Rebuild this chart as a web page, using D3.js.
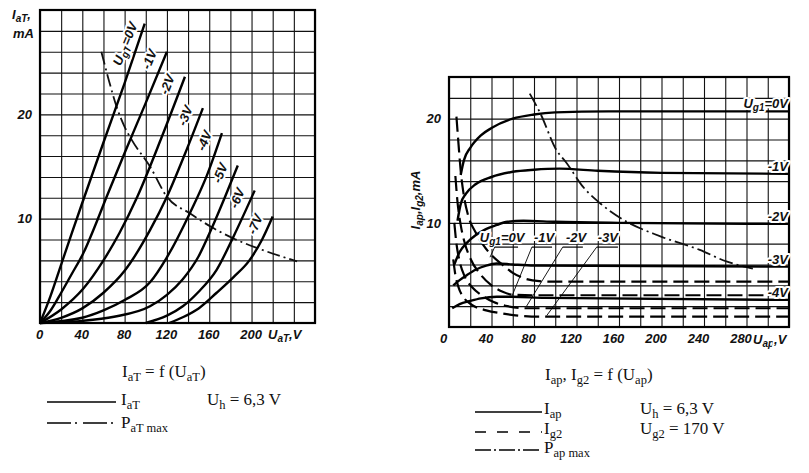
<!DOCTYPE html>
<html><head><meta charset="utf-8">
<script src="https://cdn.jsdelivr.net/npm/d3@7"></script>
<style>
body{margin:0;background:#fff}
svg{display:block}
.ax{font-family:'Liberation Sans',Arial,sans-serif;font-style:italic;font-weight:bold;font-size:13px;fill:#111}
.cap{font-family:'Liberation Serif','DejaVu Serif',serif;font-size:17px;fill:#111}
.halo{stroke:#fff;stroke-width:4px;paint-order:stroke;stroke-linejoin:round}
</style></head><body>
<svg id="c" width="809" height="473"></svg>
<script>
// ---------------- DATA ----------------
// Left chart: triode part, I_aT (mA) vs U_aT (V)
const triodeGridLabels = ["=0V", "-1V", "-2V", "-3V", "-4V", "-5V", "-6V", "-7V"];
const triode0V = [[0,0],[10,2.6],[20,5.6],[30,8.6],[42,12.1],[60,17.3],[80,23.0],[99,28.7]];
const triodeM1V = [[0,0],[10,1.2],[20,2.9],[30,4.7],[41,6.7],[52,9.3],[63,12.1],[80,16.3],[100,21.1],[120,26.0]];
const triodeM2V = [[0,0],[20,1.3],[41,3.3],[60,6.0],[75,8.6],[92,12.1],[115,17.8],[137,23.6]];
const triodeM3V = [[0,0],[20,0.5],[40,1.4],[60,2.9],[80,5.0],[104,8.9],[120,12.1],[137,16.2],[154,20.6]];
const triodeM4V = [[0,0],[40,0.5],[60,1.2],[80,2.2],[104,3.9],[120,6.3],[142,10.6],[158,14.2],[172,18.2]];
const triodeM5V = [[0,0],[40,0.2],[70,0.6],[104,1.6],[120,2.7],[135,4.2],[150,6.4],[162,9.0],[175,12.1],[187,15.1]];
const triodeM6V = [[100,0],[120,0.7],[135,1.6],[150,3.0],[167,5.1],[183,8.3],[203,12.7]];
const triodeM7V = [[122,0],[136,0.6],[150,1.4],[167,2.9],[183,4.4],[198,6.0],[210,8.0],[220,10.2]];
const triodePmax = [[58,26.0],[65,23.3],[72.5,20.7],[80,18.8],[87,17.5],[104,15.0],[120,12.1],[142,10.5],[162,9.2],[183,8.1],[205,7.2],[243,5.9]];
const leftXTicks = [0, 40, 80, 120, 160, 200];
const leftYTicks = [10, 20];

// Right chart: pentode part, I_ap and I_g2 (mA) vs U_ap (V)
const pentodeGridLabels = ["=0V", "-1V", "-2V", "-3V", "-4V"];
const iap0V  = [[11,14.6],[14,16.0],[20,17.2],[30,18.4],[40,19.1],[60,20.0],[80,20.4],[100,20.6],[150,20.7],[320,20.7]];
const iapM1V = [[8,10.2],[11,11.8],[16,12.8],[25,13.7],[40,14.4],[60,14.9],[80,15.1],[104,15.2],[140,15.0],[200,14.8],[320,14.7]];
const iapM2V = [[5,6.0],[10,7.2],[17,8.1],[25,8.8],[33,9.3],[45,9.8],[55,10.1],[70,10.2],[100,10.1],[160,10.0],[320,9.9]];
const iapM3V = [[4,4.0],[10,4.5],[17,5.0],[25,5.5],[35,5.9],[45,6.1],[60,6.0],[80,5.9],[320,5.8]];
const iapM4V = [[3,1.8],[10,2.2],[20,2.5],[30,2.75],[45,2.9],[60,2.9],[90,2.8],[320,2.6]];
const ig2Labels = ["=0V", "-1V", "-2V", "-3V"];
const ig2_0V  = [[7,20.2],[9,17.5],[11,15.0],[14,12.6],[18,10.7],[25,9.1],[32,7.9],[40,6.9],[50,6.0],[60,5.2],[70,4.7],[85,4.4],[100,4.35],[320,4.35]];
const ig2_M1V = [[6,14.5],[8,12.0],[11,9.8],[15,8.0],[20,6.6],[30,5.0],[40,4.0],[50,3.4],[60,3.1],[80,3.05],[320,3.05]];
const ig2_M2V = [[5,10.0],[7,8.0],[10,6.3],[15,4.8],[22,3.8],[30,3.1],[42,2.4],[55,2.0],[70,1.8],[320,1.8]];
const ig2_M3V = [[4,6.5],[6,5.0],[9,3.8],[14,2.8],[22,2.1],[35,1.6],[50,1.3],[65,1.1],[85,1.0],[320,1.0]];
const pentodePmax = [[76,22.4],[86,20.5],[101,17.0],[111,15.7],[125,13.6],[142,11.9],[164,10.3],[199,8.7],[236,7.4],[261,6.3],[286,5.6]];
const rightXTicks = [0, 40, 80, 120, 160, 200, 240, 280];
const rightYTicks = [10, 20];

// ---------------- LAYOUT ----------------
const svg = d3.select("#c");
const xL = d3.scaleLinear().domain([0,260]).range([40,315]);
const yL = d3.scaleLinear().domain([0,30]).range([323,10]);
const xR = d3.scaleLinear().domain([0,320]).range([449,789]);
const yR = d3.scaleLinear().domain([0,24]).range([327,77]);

function rich(sel, parts, subDy, subSize){
  let shift = 0;
  parts.forEach(([t,s])=>{
    const target = s==="sub" ? subDy : 0;
    const ts = sel.append("tspan").attr("dy", target-shift).text(t);
    if (s==="sub") ts.attr("font-size", subSize);
    shift = target;
  });
  return sel;
}

function grid(x, y, xStep, yStep){
  const g = svg.append("g");
  const [x0,x1] = x.domain(), [y0,y1] = y.domain();
  g.append("g").attr("transform",`translate(0,${y(y0)})`)
    .call(d3.axisBottom(x).tickValues(d3.range(x0, x1+0.1, xStep)).tickSize(-(y(y0)-y(y1))).tickFormat(""))
    .call(a=>a.select(".domain").remove())
    .selectAll("line").attr("stroke","#111").attr("stroke-width",1.1);
  g.append("g").attr("transform",`translate(${x(x0)},0)`)
    .call(d3.axisLeft(y).tickValues(d3.range(y0, y1+0.1, yStep)).tickSize(-(x(x1)-x(x0))).tickFormat(""))
    .call(a=>a.select(".domain").remove())
    .selectAll("line").attr("stroke","#111").attr("stroke-width",1.1);
  return g;
}
function frame(x, y){
  const [x0,x1] = x.domain(), [y0,y1] = y.domain();
  svg.append("rect").attr("x",x(x0)).attr("y",y(y1)).attr("width",x(x1)-x(x0)).attr("height",y(y0)-y(y1))
    .attr("fill","none").attr("stroke","#000").attr("stroke-width",2.2);
}
function tickLabels(x, y, xt, yt, xdx){
  const [y0] = y.domain(), [x0] = x.domain();
  const gx = svg.append("g").attr("transform",`translate(0,${y(y0)})`)
    .call(d3.axisBottom(x).tickValues(xt).tickSize(0).tickPadding(7).tickFormat(d3.format("d")));
  gx.select(".domain").remove();
  gx.selectAll("text").attr("class","ax").attr("dx",xdx).attr("font-family",null).attr("font-size",null);
  const gy = svg.append("g").attr("transform",`translate(${x(x0)},0)`)
    .call(d3.axisLeft(y).tickValues(yt).tickSize(0).tickPadding(8).tickFormat(d3.format("d")));
  gy.select(".domain").remove();
  gy.selectAll("text").attr("class","ax").attr("font-family",null).attr("font-size",null);
}

// ========== LEFT CHART ==========
grid(xL, yL, 20, 2);
const lineL = d3.line().x(d=>xL(d[0])).y(d=>yL(d[1])).curve(d3.curveMonotoneX);
const triodeSeries = [triode0V, triodeM1V, triodeM2V, triodeM3V, triodeM4V, triodeM5V, triodeM6V, triodeM7V];
svg.append("path").attr("d", lineL(triodePmax)).attr("fill","none").attr("stroke","#111")
  .attr("stroke-width",1.8).attr("stroke-dasharray","13,4,2,4");
svg.append("g").selectAll("path").data(triodeSeries).join("path")
  .attr("d", lineL).attr("fill","none").attr("stroke","#000").attr("stroke-width",2.4);
frame(xL, yL);
triodeSeries.forEach((s,i)=>{
  const e = s[s.length-1];
  const t = svg.append("text").attr("class","ax halo")
    .attr("transform",`translate(${xL(e[0])-7},${yL(e[1])+1}) rotate(-68)`)
    .attr("text-anchor","end").attr("dy",-3);
  if (i===0) rich(t, [["U",""],["gT","sub"],[triodeGridLabels[0],""]], 3, "10px");
  else t.text(triodeGridLabels[i]);
});
tickLabels(xL, yL, leftXTicks, leftYTicks, -1);
rich(svg.append("text").attr("class","ax").attr("x",12).attr("y",19), [["I",""],["aT","sub"],[",",""]], 3, "10px");
svg.append("text").attr("class","ax").attr("x",13).attr("y",38).text("mA");
rich(svg.append("text").attr("class","ax halo").attr("x",268).attr("y",339), [["U",""],["aT","sub"],[",V",""]], 3, "10px");

// ========== RIGHT CHART ==========
grid(xR, yR, 20, 2);
const lineR = d3.line().x(d=>xR(d[0])).y(d=>yR(d[1])).curve(d3.curveMonotoneX);
const iapSeries = [iap0V, iapM1V, iapM2V, iapM3V, iapM4V];
const ig2Series = [ig2_0V, ig2_M1V, ig2_M2V, ig2_M3V];
svg.append("path").attr("d", lineR(pentodePmax)).attr("fill","none").attr("stroke","#111")
  .attr("stroke-width",1.8).attr("stroke-dasharray","14,4,2,4");
svg.append("g").selectAll("path").data(ig2Series).join("path")
  .attr("d", lineR).attr("fill","none").attr("stroke","#000").attr("stroke-width",2.2)
  .attr("stroke-dasharray","15,6");
svg.append("g").selectAll("path").data(iapSeries).join("path")
  .attr("d", lineR).attr("fill","none").attr("stroke","#000").attr("stroke-width",2.4);
frame(xR, yR);
iapSeries.forEach((s,i)=>{
  const e = s[s.length-1];
  const t = svg.append("text").attr("class","ax halo").attr("text-anchor","end")
    .attr("x", xR(e[0])-1).attr("y", yR(e[1])-3);
  if (i===0) rich(t, [["U",""],["g1","sub"],[pentodeGridLabels[0],""]], 3, "10px");
  else t.text(pentodeGridLabels[i]);
});
// I_g2 labels with underline and leader lines (layout in data coordinates)
const ig2LabelPos = [[29, 8.15], [80, 8.15], [110, 8.15], [140, 8.15]];
const ig2Underline = [[43, 65], [78, 97], [107, 126], [139, 159]];
const ig2LeaderEnd = [[38.6, 6.7], [59, 2.9], [73, 2.0], [92, 1.1]];
const lab = svg.append("g");
ig2Labels.forEach((l,i)=>{
  const t = lab.append("text").attr("class","ax halo")
    .attr("x", xR(ig2LabelPos[i][0])).attr("y", yR(ig2LabelPos[i][1]));
  if (i===0) rich(t, [["U",""],["g1","sub"],[l,""]], 3, "10px");
  else t.text(l);
  const uy = yR(7.67);
  lab.append("line").attr("x1",xR(ig2Underline[i][0])).attr("x2",xR(ig2Underline[i][1]))
    .attr("y1",uy).attr("y2",uy).attr("stroke","#000").attr("stroke-width",1.2);
  lab.append("line").attr("x1",xR(ig2Underline[i][0])).attr("y1",uy)
    .attr("x2",xR(ig2LeaderEnd[i][0])).attr("y2",yR(ig2LeaderEnd[i][1]))
    .attr("stroke","#000").attr("stroke-width",0.9);
});
tickLabels(xR, yR, rightXTicks, rightYTicks, -6);
rich(svg.append("text").attr("class","ax").attr("transform","translate(420,200) rotate(-90)").attr("text-anchor","middle"),
  [["I",""],["ap","sub"],[",I",""],["g2","sub"],[",mA",""]], 3, "10px");
rich(svg.append("text").attr("class","ax halo").attr("x",753).attr("y",344), [["U",""],["ap","sub"],[",V",""]], 3, "10px");

// ========== CAPTIONS / LEGENDS ==========
function cap(x, y, parts){ return rich(svg.append("text").attr("class","cap").attr("x",x).attr("y",y), parts, 4, "12.5px"); }
function legLine(x1, x2, y, dash){
  svg.append("line").attr("x1",x1).attr("x2",x2).attr("y1",y).attr("y2",y)
    .attr("stroke","#000").attr("stroke-width",1.3).attr("stroke-dasharray",dash);
}
cap(122, 377, [["I",""],["aT","sub"],[" = f (U",""],["aT","sub"],[")",""]]);
legLine(47, 116, 402, null);
cap(121, 405, [["I",""],["aT","sub"]]);
cap(207, 405, [["U",""],["h","sub"],[" = 6,3 V",""]]);
legLine(47, 116, 423, "24,4,2,6");
cap(121, 428, [["P",""],["aT max","sub"]]);

cap(545, 380, [["I",""],["ap","sub"],[",  I",""],["g2","sub"],[" = f (U",""],["ap","sub"],[")",""]]);
legLine(475, 542, 412, null);
cap(544, 414, [["I",""],["ap","sub"]]);
cap(640, 414, [["U",""],["h","sub"],[" = 6,3 V",""]]);
legLine(475, 542, 432, "11,11");
cap(544, 434, [["I",""],["g2","sub"]]);
cap(640, 434, [["U",""],["g2","sub"],[" = 170 V",""]]);
legLine(475, 542, 450, "16,3,2,3");
cap(544, 453, [["P",""],["ap max","sub"]]);
</script>
</body></html>
